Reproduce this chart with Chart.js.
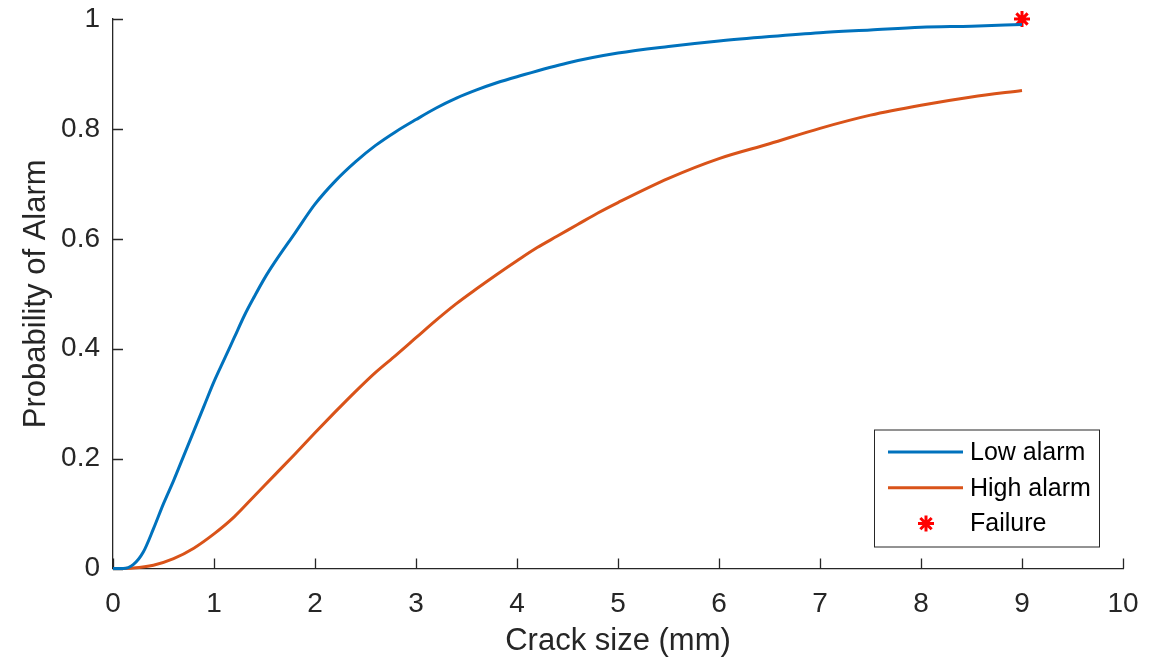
<!DOCTYPE html>
<html>
<head>
<meta charset="utf-8">
<script src="https://cdn.jsdelivr.net/npm/chart.js@4/dist/chart.umd.min.js"></script>
<style>
  html, body { margin: 0; padding: 0; background: #fff; }
  #wrap { width: 1153px; height: 661px; }
</style>
</head>
<body>
<div id="wrap"><canvas id="poa" width="1153" height="661"></canvas></div>
<script>
// crack size (mm) vs probability of alarm
var lowX  = [0, 0.1, 0.2, 0.3, 0.4, 0.5, 0.6, 0.7, 0.8, 0.9, 1.0, 1.1, 1.2, 1.3, 1.4, 1.5, 1.6, 1.8, 2.0, 2.2, 2.4, 2.6, 2.8, 3.0, 3.2, 3.4, 3.6, 3.8, 4.0, 4.5, 5.0, 5.5, 6.0, 6.5, 7.0, 7.5, 8.0, 8.5, 9.0];
var lowY  = [0, 0.0, 0.007, 0.03, 0.072, 0.118, 0.16, 0.205, 0.25, 0.295, 0.34, 0.38, 0.42, 0.46, 0.495, 0.528, 0.557, 0.61, 0.663, 0.705, 0.74, 0.77, 0.795, 0.817, 0.838, 0.856, 0.871, 0.884, 0.895, 0.92, 0.938, 0.95, 0.96, 0.968, 0.975, 0.98, 0.985, 0.987, 0.99];

var highX = [0, 0.2, 0.4, 0.6, 0.8, 1.0, 1.2, 1.4, 1.6, 1.8, 2.0, 2.2, 2.4, 2.6, 2.8, 3.0, 3.2, 3.4, 3.6, 3.8, 4.0, 4.2, 4.4, 4.6, 4.8, 5.0, 5.5, 6.0, 6.5, 7.0, 7.5, 8.0, 8.5, 9.0];
var highY = [0, 0.001, 0.006, 0.018, 0.037, 0.063, 0.094, 0.132, 0.17, 0.208, 0.247, 0.285, 0.322, 0.357, 0.388, 0.42, 0.452, 0.482, 0.509, 0.535, 0.56, 0.584, 0.605, 0.626, 0.647, 0.666, 0.71, 0.746, 0.773, 0.801, 0.825, 0.843, 0.858, 0.87];

var failX = [9];
var failY = [1];

var xTicks = [0, 1, 2, 3, 4, 5, 6, 7, 8, 9, 10];
var yTicks = [0, 0.2, 0.4, 0.6, 0.8, 1];

var labels = ["Low alarm", "High alarm", "Failure"];

var axisColor = "#262626";
var fontFam = "'Liberation Sans', Arial, Helvetica, sans-serif";

function pts(xs, ys) {
	var out = [];
	for (let i = 0; i < xs.length; i++) out.push({ x: xs[i], y: ys[i] });
	return out;
}

// MATLAB style: ticks point into the plot
var innerTicks = {
	id: "innerTicks",
	beforeDatasetsDraw: function (chart) {
		var ctx = chart.ctx, a = chart.chartArea;
		var sx = chart.scales.x, sy = chart.scales.y;
		ctx.save();
		ctx.strokeStyle = axisColor;
		ctx.lineWidth = 1.3;
		ctx.beginPath();
		xTicks.forEach(function (v) {
			var px = Math.round(sx.getPixelForValue(v)) + 0.5;
			ctx.moveTo(px, a.bottom);
			ctx.lineTo(px, a.bottom - 10);
		});
		yTicks.forEach(function (v) {
			var py = Math.round(sy.getPixelForValue(v)) + 0.5;
			ctx.moveTo(a.left, py);
			ctx.lineTo(a.left + 10, py);
		});
		ctx.stroke();
		ctx.restore();
	}
};

function drawStar(ctx, x, y, r) {
	ctx.beginPath();
	for (let k = 0; k < 4; k++) {
		var ang = k * Math.PI / 4;
		ctx.moveTo(x - r * Math.cos(ang), y - r * Math.sin(ang));
		ctx.lineTo(x + r * Math.cos(ang), y + r * Math.sin(ang));
	}
	ctx.stroke();
}

// boxed legend in the lower right corner of the axes
var boxLegend = {
	id: "boxLegend",
	afterDraw: function (chart) {
		var ctx = chart.ctx, a = chart.chartArea;
		var w = 225, h = 117;
		var left = a.right - 24 - w, top = a.bottom - 22 - h;
		ctx.save();
		ctx.fillStyle = "#fff";
		ctx.fillRect(left, top, w, h);
		ctx.strokeStyle = axisColor;
		ctx.lineWidth = 1;
		ctx.strokeRect(left + 0.5, top + 0.5, w, h);
		ctx.font = "25px " + fontFam;
		ctx.textBaseline = "middle";
		chart.data.datasets.forEach(function (ds, i) {
			var cy = top + 22.5 + i * 35.8;
			ctx.strokeStyle = ds.borderColor;
			ctx.lineWidth = 3;
			if (ds.showLine) {
				ctx.beginPath();
				ctx.moveTo(left + 14, cy);
				ctx.lineTo(left + 89, cy);
				ctx.stroke();
			} else {
				drawStar(ctx, left + 52, cy, 8);
			}
			ctx.fillStyle = "#000";
			ctx.fillText(ds.label, left + 96, cy + 1);
		});
		ctx.restore();
	}
};

var chart = new Chart(document.getElementById("poa"), {
	type: "scatter",
	data: {
		datasets: [{
			label: labels[0],
			data: pts(lowX, lowY),
			showLine: true,
			borderColor: "#0072BD",
			backgroundColor: "#0072BD",
			borderWidth: 3,
			pointRadius: 0,
			cubicInterpolationMode: "monotone",
			clip: false
		}, {
			label: labels[1],
			data: pts(highX, highY),
			showLine: true,
			borderColor: "#D95319",
			backgroundColor: "#D95319",
			borderWidth: 3,
			pointRadius: 0,
			cubicInterpolationMode: "monotone",
			clip: false
		}, {
			label: labels[2],
			data: pts(failX, failY),
			showLine: false,
			pointStyle: "star",
			pointRadius: 8,
			borderColor: "#FF0000",
			backgroundColor: "#FF0000",
			pointBorderWidth: 3,
			clip: false
		}]
	},
	options: {
		responsive: false,
		animation: false,
		layout: { padding: { left: 0, top: 19, right: 30, bottom: 0 } },
		plugins: {
			legend: { display: false },
			tooltip: { enabled: false }
		},
		scales: {
			x: {
				type: "linear",
				min: 0,
				max: 10,
				afterBuildTicks: function (s) { s.ticks = xTicks.map(function (v) { return { value: v }; }); },
				afterFit: function (s) { s.height = 92.5; s.paddingLeft = 0; s.paddingRight = 0; },
				grid: { display: false, drawTicks: false },
				border: { display: true, color: axisColor, width: 1.3 },
				ticks: {
					color: axisColor,
					padding: 19,
					maxRotation: 0,
					font: { family: fontFam, size: 28 },
					callback: function (v) { return String(v); }
				},
				title: {
					display: true,
					text: "Crack size (mm)",
					color: axisColor,
					padding: { top: 0, bottom: 1 },
					font: { family: fontFam, size: 31 }
				}
			},
			y: {
				type: "linear",
				min: 0,
				max: 1,
				afterBuildTicks: function (s) { s.ticks = yTicks.map(function (v) { return { value: v }; }); },
				afterFit: function (s) { s.width = 113; s.paddingTop = 0; s.paddingBottom = 0; },
				grid: { display: false, drawTicks: false },
				border: { display: true, color: axisColor, width: 1.3 },
				ticks: {
					color: axisColor,
					padding: 13,
					font: { family: fontFam, size: 28 },
					callback: function (v) { return String(Number(v.toFixed(1))); }
				},
				title: {
					display: true,
					text: "Probability of Alarm",
					color: axisColor,
					padding: { top: 18, bottom: 0 },
					font: { family: fontFam, size: 31 }
				}
			}
		}
	},
	plugins: [innerTicks, boxLegend]
});
</script>
</body>
</html>
